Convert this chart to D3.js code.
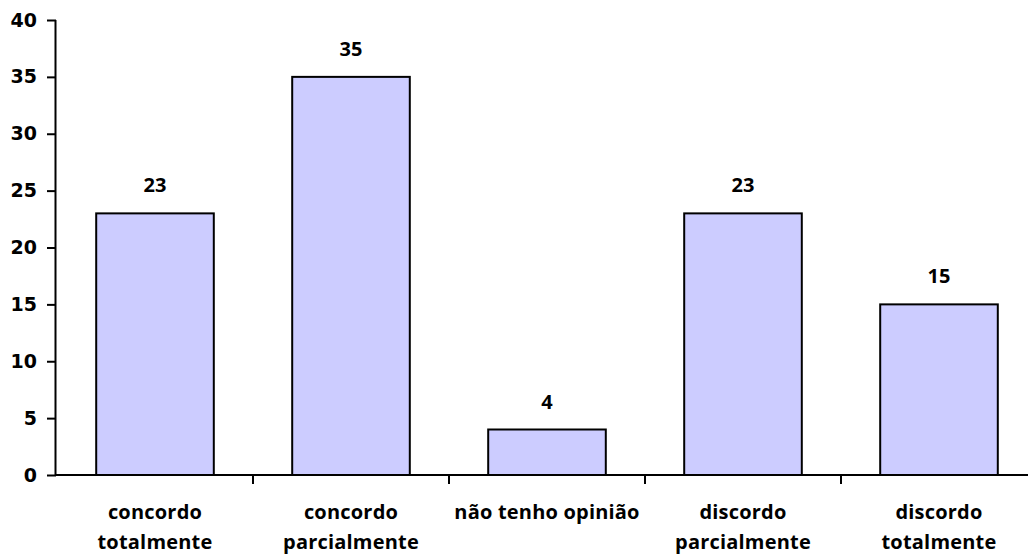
<!DOCTYPE html>
<html>
<head>
<meta charset="utf-8">
<script src="https://cdn.jsdelivr.net/npm/d3@7"></script>
<style>
  html, body { margin: 0; padding: 0; background: #fff; }
  svg { display: block; }
</style>
</head>
<body>
<script>
// Survey answers and their counts
const categories = [
  ["concordo", "totalmente"],
  ["concordo", "parcialmente"],
  ["não tenho opinião"],
  ["discordo", "parcialmente"],
  ["discordo", "totalmente"]
];
const values = [23, 35, 4, 23, 15];
const yTicks = [0, 5, 10, 15, 20, 25, 30, 35, 40];

const W = 1028, H = 555;
const plotLeft = 57, plotRight = 1037, plotTop = 20, plotBottom = 475;

const svg = d3.select("body").append("svg")
  .attr("width", W).attr("height", H);

const keys = categories.map((c, i) => i);
const x = d3.scaleBand().domain(keys).range([plotLeft, plotRight])
  .paddingInner(0.4).paddingOuter(0.2);
const y = d3.scaleLinear().domain([0, 40]).range([plotBottom, plotTop]);

// Bars
svg.append("g").selectAll("rect").data(values).join("rect")
  .attr("x", (d, i) => x(i))
  .attr("y", d => y(d))
  .attr("width", x.bandwidth())
  .attr("height", d => y(0) - y(d))
  .attr("fill", "#CCCCFF")
  .attr("stroke", "#000")
  .attr("stroke-width", 2);

// Value labels
svg.append("g").selectAll("text").data(values).join("text")
  .attr("x", (d, i) => x(i) + x.bandwidth() / 2)
  .attr("y", d => y(d) - 21)
  .attr("text-anchor", "middle")
  .attr("font-family", "'Open Sans', sans-serif")
  .attr("font-weight", "bold")
  .attr("font-size", 20)
  .attr("fill", "#000")
  .text(d => d);

// Y axis
const yAxis = svg.append("g")
  .attr("transform", `translate(${plotLeft - 1},0)`)
  .call(d3.axisLeft(y).tickValues(yTicks).tickSize(9).tickPadding(10));
yAxis.select(".domain").attr("stroke-width", 2).attr("d", `M-0.5,${plotTop}V${plotBottom}`);
yAxis.selectAll(".tick line").attr("stroke-width", 2);
yAxis.selectAll(".tick text")
  .attr("font-family", "'DejaVu Sans', sans-serif")
  .attr("font-weight", "bold")
  .attr("font-size", 19)
  .attr("fill", "#000");

// X axis: ticks sit on the band boundaries
const boundaries = d3.range(keys.length + 1).map(i => plotLeft + i * x.step());
const xg = svg.append("g");
xg.append("line")
  .attr("x1", plotLeft - 2).attr("x2", W)
  .attr("y1", plotBottom).attr("y2", plotBottom)
  .attr("stroke", "#000").attr("stroke-width", 2);
xg.selectAll("line.tick").data(boundaries.slice(1)).join("line")
  .attr("class", "tick")
  .attr("x1", d => d).attr("x2", d => d)
  .attr("y1", plotBottom).attr("y2", plotBottom + 9)
  .attr("stroke", "#000").attr("stroke-width", 2);

// Category labels, two lines where the answer is long
const labels = svg.append("g").selectAll("text").data(categories).join("text")
  .attr("x", (d, i) => x(i) + x.bandwidth() / 2)
  .attr("y", 519)
  .attr("text-anchor", "middle")
  .attr("font-family", "'Open Sans', sans-serif")
  .attr("font-weight", "bold")
  .attr("font-size", 20)
  .attr("letter-spacing", 0.2)
  .attr("fill", "#000");
labels.selectAll("tspan").data(d => d).join("tspan")
  .attr("x", function () { return d3.select(this.parentNode).attr("x"); })
  .attr("dy", (d, j) => j === 0 ? 0 : 30)
  .text(d => d);
</script>
</body>
</html>
